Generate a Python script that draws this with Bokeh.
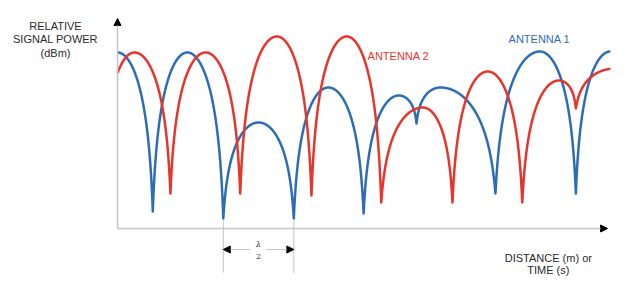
import numpy as np
from bokeh.plotting import figure
from bokeh.models import Range1d, Arrow, NormalHead
from bokeh.core.properties import value
from bokeh.embed import file_html
from bokeh.resources import INLINE

# ---- data (x in units of lambda/2 from the power axis, y in relative level units) ----
BLUE_NULL_X = [-0.50, 0.50, 1.50, 2.50, 3.49, 4.24, 5.36, 6.50, 7.49]
BLUE_NULL_Y = [4.25, 4.25, 2.5, 2.5, 3.75, 26.25, 8.75, 8.75, 8.75]
BLUE_PEAK_X = [0.0, 0.99, 2.0, 2.99, 3.99, 4.58, 5.99, 6.99]
BLUE_PEAK_Y = [44.0, 44.0, 26.5, 35.25, 33.25, 35.25, 44.25, 44.25]

RED_NULL_X = [-0.22, 0.75, 1.74, 2.75, 3.74, 4.75, 5.74, 6.50, 7.99]
RED_NULL_Y = [8.75, 8.75, 8.75, 8.25, 6.5, 6.5, 6.5, 30.0, 8.0]
RED_PEAK_X = [0.24, 1.25, 2.26, 3.25, 4.33, 5.25, 6.26, 7.06]
RED_PEAK_Y = [44.0, 44.0, 48.0, 48.0, 30.25, 39.25, 37.0, 40.0]

X_START, X_END = 0.0, 6.99
LAMBDA_NULLS = [1.50, 2.50]

Y_TITLE = ["RELATIVE", "SIGNAL POWER", "(dBm)"]
X_TITLE = ["DISTANCE (m) or", "TIME (s)"]
SERIES_NAMES = ["ANTENNA 1", "ANTENNA 2"]

BLUE = "#2d6db5"
RED = "#e8352b"
AXIS_GRAY = "#c4c4c4"
TEXT = "#2b2b2b"
FONT = value("Liberation Sans")

EPS = 0.1


def shape(u):
    arg = (1 - EPS) * np.cos(np.pi * u / 2) + EPS
    return np.log10(arg) / np.log10(EPS)


def curve(nx, ny, pkx, pky):
    xs, ys = [], []
    n = 600
    for i in range(len(pkx)):
        a, b = nx[i], nx[i + 1]
        p, h = pkx[i], pky[i]
        u = np.linspace(1, 0, n)
        xs.append(p - (p - a) * u)
        ys.append(h - (h - ny[i]) * shape(u))
        u = np.linspace(0, 1, n)[1:]
        xs.append(p + (b - p) * u)
        ys.append(h - (h - ny[i + 1]) * shape(u))
    x = np.concatenate(xs)
    y = np.concatenate(ys)
    m = (x >= X_START) & (x <= X_END)
    return x[m], y[m]


p = figure(width=624, height=300, output_backend="svg", toolbar_location=None,
           x_axis_type=None, y_axis_type=None, min_border=0,
           x_range=Range1d(-1.66, 7.19), y_range=Range1d(-18, 57))
p.outline_line_color = None
p.grid.visible = False
p.background_fill_color = "white"
p.border_fill_color = "white"

# axes with arrows
head = dict(size=7, fill_color="black", line_color="black")
p.add_layout(Arrow(end=NormalHead(**head), x_start=0, y_start=0, x_end=0, y_end=52.5,
                   line_color=AXIS_GRAY, line_width=1.5))
p.add_layout(Arrow(end=NormalHead(**head), x_start=0, y_start=0, x_end=6.95, y_end=0,
                   line_color=AXIS_GRAY, line_width=1.5))

# curves
bx, by = curve(BLUE_NULL_X, BLUE_NULL_Y, BLUE_PEAK_X, BLUE_PEAK_Y)
rx, ry = curve(RED_NULL_X, RED_NULL_Y, RED_PEAK_X, RED_PEAK_Y)
p.line(bx, by, line_color=BLUE, line_width=2.5, line_join="round")
p.line(rx, ry, line_color=RED, line_width=2.5, line_join="round")

# lambda/2 marker
l0, l1 = LAMBDA_NULLS
p.segment(x0=[l0, l1], y0=[2, 2], x1=[l0, l1], y1=[-11, -11.2],
          line_color=AXIS_GRAY, line_width=1)
small = dict(size=7, fill_color="black", line_color="black")
p.add_layout(Arrow(end=NormalHead(**small), x_start=1.887, y_start=-5.25, x_end=l0, y_end=-5.25,
                   line_color=AXIS_GRAY, line_width=1))
p.add_layout(Arrow(end=NormalHead(**small), x_start=2.113, y_start=-5.25, x_end=l1, y_end=-5.25,
                   line_color=AXIS_GRAY, line_width=1))
p.text(x=[(l0 + l1) / 2], y=[-4.0], text=["λ"], text_font=value("DejaVu Serif"),
       text_font_style="italic", text_font_size="8px", text_align="center",
       text_baseline="middle", text_color=TEXT)
p.text(x=[(l0 + l1) / 2], y=[-7.1], text=["2"], text_font=value("DejaVu Serif"),
       text_font_size="8px", text_align="center", text_baseline="middle", text_color=TEXT)

# titles
p.text(x=[-0.88] * 3, y=[50.75, 47.4, 44.0], text=Y_TITLE, text_font=FONT,
       text_font_size="11px", text_align="center", text_baseline="middle", text_color=TEXT)
p.text(x=[6.11] * 2, y=[-7.25, -10.4], text=X_TITLE, text_font=FONT,
       text_font_size="11px", text_align="center", text_baseline="middle", text_color=TEXT)

# series labels
p.text(x=[5.546], y=[47.5], text=[SERIES_NAMES[0]], text_font=FONT, text_font_size="11px",
       text_align="left", text_baseline="middle", text_color=BLUE)
p.text(x=[3.546], y=[43.25], text=[SERIES_NAMES[1]], text_font=FONT, text_font_size="11px",
       text_align="left", text_baseline="middle", text_color=RED)

open("out.html", "w").write(file_html(p, INLINE))
